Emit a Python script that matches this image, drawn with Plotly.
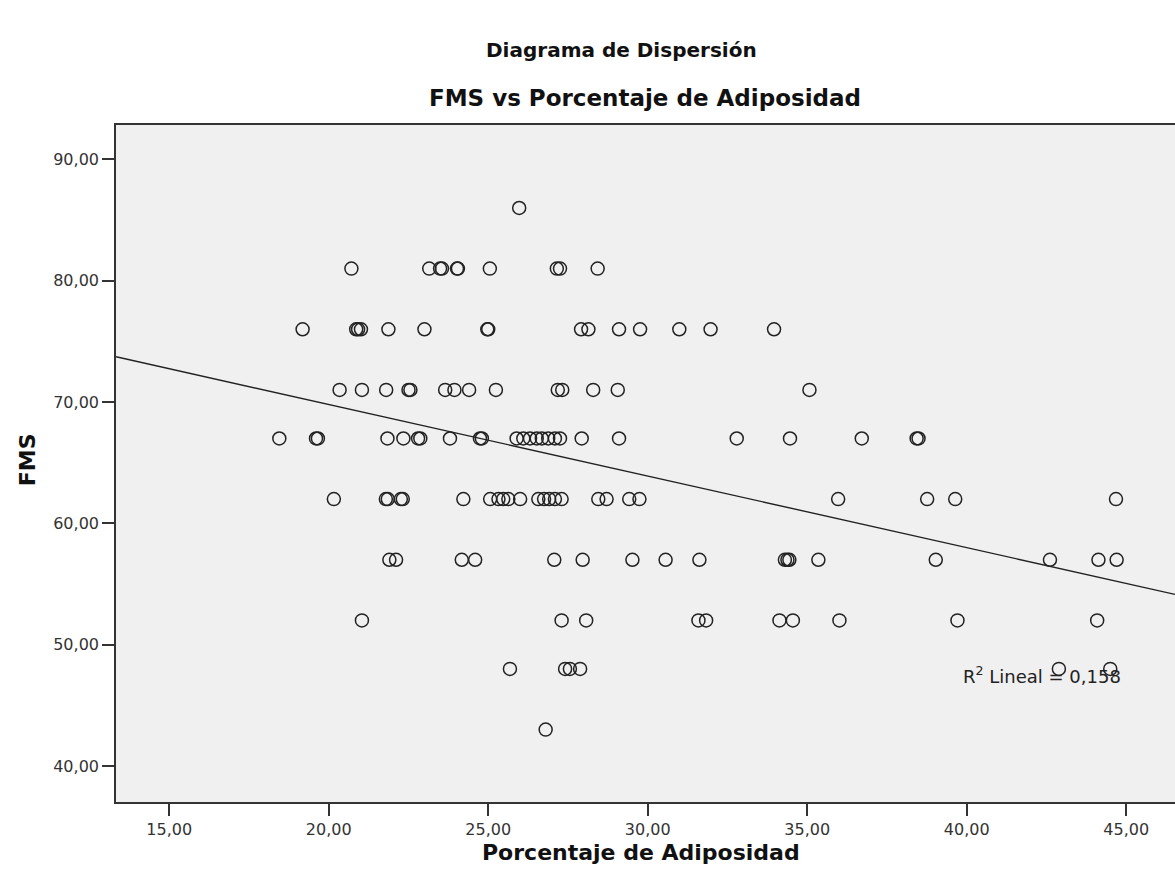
import plotly.graph_objects as go

# ---- data ----
fms_86 = [25.97]
fms_81 = [20.71, 23.15, 23.49, 23.55, 24.02, 24.05, 25.05, 27.15, 27.25, 28.43]
fms_76 = [19.18, 20.86, 20.92, 21.01, 21.87, 23.00, 24.97, 25.00, 27.91, 28.14,
          29.10, 29.76, 30.99, 31.97, 33.96]
fms_71 = [20.34, 21.04, 21.80, 22.50, 22.56, 23.65, 23.94, 24.40, 25.24, 27.18,
          27.32, 28.29, 29.06, 35.07]
fms_67 = [18.45, 19.60, 19.66, 21.84, 22.34, 22.80, 22.87, 23.80, 24.74, 24.80,
          25.89, 26.10, 26.31, 26.52, 26.68, 26.88, 27.09, 27.25, 27.93, 29.10,
          32.79, 34.46, 36.71, 38.43, 38.49]
fms_62 = [20.16, 21.79, 21.85, 22.26, 22.32, 24.22, 25.06, 25.32, 25.47, 25.63,
          26.00, 26.57, 26.75, 26.91, 27.09, 27.30, 28.45, 28.71, 29.42, 29.74,
          35.97, 38.76, 39.64, 44.68]
fms_57 = [21.90, 22.11, 24.17, 24.59, 27.07, 27.96, 29.52, 30.56, 31.62, 34.30,
          34.38, 34.44, 35.35, 39.03, 42.61, 44.13, 44.70]
fms_52 = [21.04, 27.30, 28.07, 31.59, 31.83, 34.13, 34.55, 36.01, 39.71, 44.09]
fms_48 = [25.68, 27.41, 27.56, 27.88, 42.89, 44.50]
fms_43 = [26.80]

fms_levels = [86, 81, 76, 71, 67, 62, 57, 52, 48, 43]
adiposidad_by_level = [fms_86, fms_81, fms_76, fms_71, fms_67,
                       fms_62, fms_57, fms_52, fms_48, fms_43]

adiposidad = []
fms = []
for level, xs in zip(fms_levels, adiposidad_by_level):
    adiposidad.extend(xs)
    fms.extend([level] * len(xs))

# linear fit
fit_intercept = 81.6
fit_slope = -0.590
r2_text = "R<sup>2</sup> Lineal = 0,158"

x_range = [13.33, 46.53]
y_range = [37.03, 92.84]
x_ticks = [15, 20, 25, 30, 35, 40, 45]
y_ticks = [40, 50, 60, 70, 80, 90]

fit_x = x_range
fit_y = [fit_intercept + fit_slope * v for v in fit_x]

FONT = "DejaVu Sans"
INK = "#222222"
TITLE_INK = "#111111"

fig = go.Figure()
fig.add_trace(go.Scatter(
    x=fit_x, y=fit_y, mode="lines",
    line=dict(color=INK, width=1.4), hoverinfo="skip", showlegend=False))
fig.add_trace(go.Scatter(
    x=adiposidad, y=fms, mode="markers",
    marker=dict(symbol="circle-open", size=13, color=INK,
                line=dict(width=1.5, color=INK)),
    showlegend=False))

fig.add_annotation(x=39.82, y=47.5, xref="x", yref="y", text=r2_text,
                   showarrow=False, xanchor="left", yanchor="middle",
                   font=dict(family=FONT, size=18, color=INK))

fig.add_annotation(x=0.4776, y=1.1108, xref="paper", yref="paper",
                   text="<b>Diagrama de Dispersión</b>", showarrow=False,
                   xanchor="center", yanchor="middle",
                   font=dict(family=FONT, size=20, color=TITLE_INK))
fig.add_annotation(x=0.4997, y=1.0399, xref="paper", yref="paper",
                   text="<b>FMS vs Porcentaje de Adiposidad</b>", showarrow=False,
                   xanchor="center", yanchor="middle",
                   font=dict(family=FONT, size=23, color=TITLE_INK))
fig.add_annotation(x=0.4957, y=-0.0739, xref="paper", yref="paper",
                   text="<b>Porcentaje de Adiposidad</b>", showarrow=False,
                   xanchor="center", yanchor="middle",
                   font=dict(family=FONT, size=22, color=TITLE_INK))
fig.add_annotation(x=-0.0840, y=0.505, xref="paper", yref="paper",
                   text="<b>FMS</b>", showarrow=False, textangle=-90,
                   xanchor="center", yanchor="middle",
                   font=dict(family=FONT, size=22, color=TITLE_INK))

fig.update_layout(
    width=1175, height=880,
    margin=dict(l=116, r=0, t=125, b=78),
    paper_bgcolor="white", plot_bgcolor="#F0F0F0",
    separators=",.",
    font=dict(family=FONT, color=INK),
    showlegend=False,
)
fig.update_xaxes(
    range=x_range, tickvals=x_ticks, tickformat=".2f",
    showgrid=False, zeroline=False,
    showline=True, linecolor="#333333", linewidth=1.6, mirror=True,
    ticks="outside", ticklen=12, tickwidth=1.6, tickcolor="#333333",
    tickfont=dict(family=FONT, size=16, color="#333333"),
)
fig.update_yaxes(
    range=y_range, tickvals=y_ticks, tickformat=".2f",
    showgrid=False, zeroline=False,
    showline=True, linecolor="#333333", linewidth=1.6,
    ticks="outside", ticklen=12, tickwidth=1.6, tickcolor="#333333",
    tickfont=dict(family=FONT, size=16, color="#333333"),
)

fig.write_html(
    "out.html",
    config={"displayModeBar": False},
    post_script="document.body.style.margin='0';document.body.style.overflow='hidden';",
)
